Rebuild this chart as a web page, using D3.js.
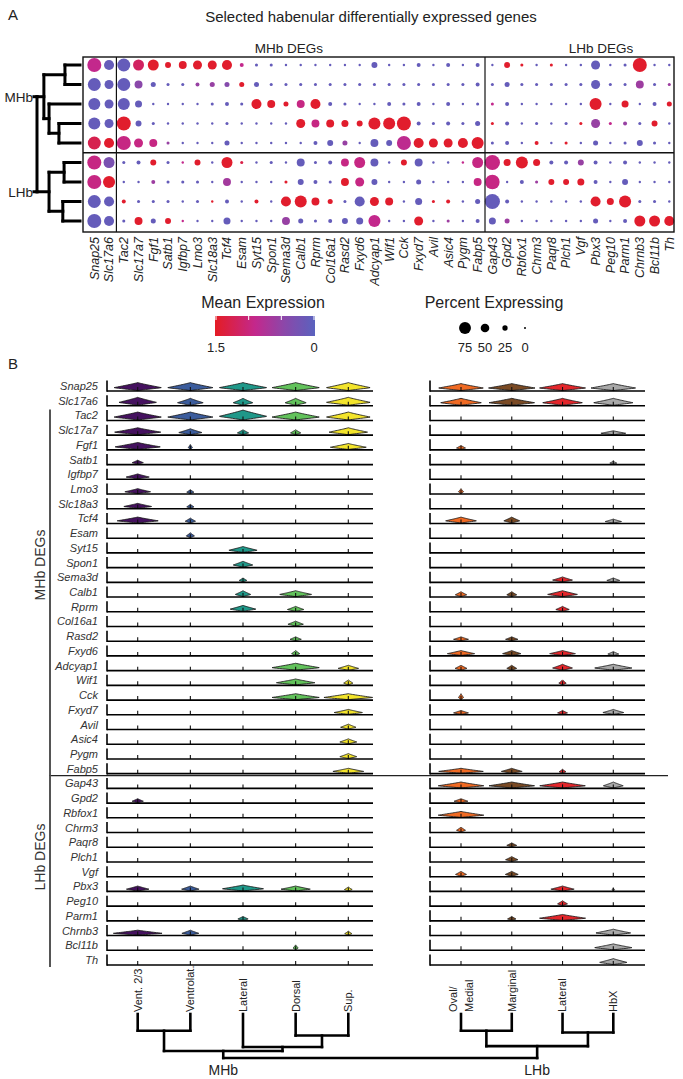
<!DOCTYPE html>
<html><head><meta charset="utf-8">
<script src="https://cdn.jsdelivr.net/npm/d3@7"></script>
<style>body{margin:0;background:#fff}svg{display:block}text{font-family:"Liberation Sans",Arial,sans-serif}</style>
</head><body><svg id="c" width="683" height="1079"></svg>
<script>
// ---------------- DATA ----------------
const dotGenes = ["Snap25","Slc17a6","Tac2","Slc17a7","Fgf1","Satb1","Igfbp7","Lmo3","Slc18a3","Tcf4","Esam","Syt15","Spon1","Sema3d","Calb1","Rprm","Col16a1","Rasd2","Fxyd6","Adcyap1","Wif1","Cck","Fxyd7","Avil","Asic4","Pygm","Fabp5","Gap43","Gpd2","Rbfox1","Chrm3","Paqr8","Plch1","Vgf","Pbx3","Peg10","Parm1","Chrnb3","Bcl11b","Th"];
const dotRows = ["MHb1","MHb2","MHb3","MHb4","MHb5","LHb1","LHb2","LHb3","LHb4"];
const pct = [
[91,61,83,68,68,30,45,53,53,61, 15,8,8,3,3,3,3,3,3,30, 3,3,15,3,15,3,15,3,30,8, 3,8,3,3,53,3,8,91,3,3],
[83,53,83,45,23,8,8,15,23,23, 23,23,8,8,8,8,8,8,8,8, 8,8,8,8,8,8,15,8,23,8, 8,8,8,8,53,8,8,45,8,8],
[76,53,76,38,3,3,3,3,8,15, 8,61,45,23,45,61,15,8,3,3, 15,8,15,3,15,3,8,8,15,3, 3,3,3,3,76,3,38,3,15,23],
[76,53,91,30,8,3,3,3,3,8, 3,3,3,3,53,45,45,38,30,76, 76,91,15,8,15,8,23,8,15,3, 8,3,8,8,53,8,15,8,30,3],
[83,61,91,53,45,8,3,3,3,23, 3,3,3,3,3,15,30,23,3,45, 30,91,61,53,53,61,76,8,15,3, 15,3,8,3,23,3,8,30,8,3],
[91,68,8,15,30,8,3,30,3,68, 8,3,8,3,45,8,15,45,68,45, 3,30,45,3,3,3,68,100,38,76, 38,15,15,30,15,3,15,3,3,3],
[91,76,3,3,15,8,8,8,3,45, 3,3,3,8,30,15,8,45,53,30, 3,3,23,3,3,3,45,95,3,15, 8,30,30,38,15,3,30,3,3,3],
[83,61,15,8,8,8,3,8,3,15, 3,15,3,61,76,45,23,8,61,53, 45,3,38,8,15,3,23,100,15,3, 3,3,3,3,61,38,76,8,8,3],
[91,61,8,45,23,30,3,3,3,38, 3,3,3,45,23,8,15,30,38,76, 3,3,53,3,8,3,15,38,23,3, 3,3,3,3,23,3,15,68,68,61]
];
const expr = [
[0.9,0.1,0.1,1.15,1.45,1.45,1.45,1.45,1.45,1.45, 0.9,0.1,0.1,0.1,0.1,0.1,0.1,0.1,0.1,0.1, 0.1,0.1,0.1,0.1,0.1,0.1,0.1,0.1,1.45,1.45, 0.1,1.45,0.1,0.1,0.1,0.1,0.1,1.45,0.1,0.1],
[0.1,0.1,0.1,0.45,0.1,0.1,0.1,0.55,0.55,0.4, 1.45,0.1,0.1,0.1,0.1,0.1,0.1,0.1,0.1,0.1, 0.1,0.1,0.1,0.1,0.1,0.1,0.1,0.1,0.1,0.1, 0.1,0.1,0.1,0.1,0.1,0.1,0.1,0.6,0.1,0.6],
[0.1,0.1,0.1,0.1,0.1,0.1,0.1,0.1,0.1,0.1, 0.1,1.45,1.45,1.45,0.95,1.45,0.1,0.1,0.1,0.1, 0.1,0.1,0.1,0.1,0.1,0.1,0.1,0.9,0.1,0.1, 0.1,0.1,0.1,0.1,1.45,0.1,1.45,0.1,0.1,1.45],
[0.1,0.1,1.45,0.1,0.1,0.1,0.1,0.1,0.1,0.1, 0.1,0.1,0.1,0.1,1.45,0.95,1.45,1.45,1.45,1.45, 1.45,1.45,0.1,0.1,0.1,0.1,0.1,1.45,0.1,0.1, 0.1,0.1,0.1,1.45,0.55,0.9,0.55,0.1,1.45,0.1],
[1.25,1.45,0.95,0.95,0.95,0.55,0.1,0.1,0.1,0.1, 0.1,0.1,0.1,0.1,0.1,0.1,0.1,0.55,0.1,0.1, 0.1,0.85,1.45,1.45,1.45,1.45,1.45,0.1,0.1,0.1, 1.45,0.1,1.45,0.1,0.1,0.1,0.1,0.1,0.1,0.1],
[0.95,0.3,0.1,0.1,1.45,0.1,0.9,1.45,0.1,1.45, 1.3,0.1,0.1,0.1,0.1,0.1,0.1,0.95,0.95,0.1, 0.1,1.45,0.1,0.1,0.1,0.9,0.95,0.95,1.45,1.45, 1.45,0.1,0.1,0.55,0.1,0.1,0.1,0.1,0.1,0.1],
[0.95,1.45,0.1,0.1,0.6,0.1,0.1,0.1,0.1,0.65, 0.1,0.1,0.1,1.45,0.1,0.1,0.1,1.45,0.95,0.1, 0.1,0.1,0.1,0.1,0.1,0.1,0.95,0.95,0.1,0.1, 0.6,1.45,1.45,1.45,0.1,0.1,0.1,0.1,0.1,0.1],
[0.1,0.1,1.45,0.1,0.1,0.1,0.1,0.1,1.45,0.1, 0.1,1.45,0.1,1.45,1.45,1.45,1.45,0.1,0.1,1.45, 1.45,0.1,0.1,1.45,1.45,0.1,0.1,0.1,0.1,0.1, 0.1,0.1,0.1,0.1,1.45,1.45,1.45,0.1,0.1,0.1],
[0.1,0.1,0.1,1.45,0.1,1.45,0.9,0.1,0.1,0.1, 0.1,0.1,0.1,0.55,0.1,0.1,0.1,0.1,0.1,0.9, 0.1,0.1,1.45,0.1,0.6,0.1,0.1,0.1,0.6,0.1, 0.1,0.1,0.1,0.1,0.1,0.1,0.1,1.45,1.45,1.45]
];
const colorTicks = [1.5, 1.0, 0.5, 0];
const colorLabels = ["1.5", "0"];
const sizeLegend = [75, 50, 25, 0];
const rowTree = {h:1.0, children:[
  {h:0.84, label:"MHb", children:[
    {h:0.35, children:[{leaf:"MHb1"},{leaf:"MHb2"}]},
    {h:0.72, children:[{leaf:"MHb3"},{h:0.49, children:[{leaf:"MHb4"},{leaf:"MHb5"}]}]}]},
  {h:0.72, label:"LHb", children:[
    {h:0.37, children:[{leaf:"LHb1"},{leaf:"LHb2"}]},
    {h:0.40, children:[{leaf:"LHb3"},{leaf:"LHb4"}]}]}]};

const violinGenes = dotGenes.slice();
const leftClusters = ["Vent. 2/3","Ventrolat.","Lateral","Dorsal","Sup."];
const rightClusters = ["Oval/Medial","Marginal","Lateral","HbX"];
const leftColors = ["#45115f","#3b5c9c","#1f9889","#62c25b","#f3e42b"];
const rightColors = ["#f06a23","#7a4a24","#e3262b","#a8a8a8"];
const leftW = [
[0.92,0.88,0.92,0.92,0.85],[0.73,0.5,0.38,0.41,0.85],[0.92,0.88,0.92,0.92,0.85],[0.9,0.45,0.22,0.2,0.75],
[0.88,0.08,0,0,0.7],[0.22,0,0,0,0],[0.45,0,0,0,0],[0.5,0.14,0,0,0],[0.54,0.14,0,0,0],[0.8,0.2,0,0,0],
[0,0.16,0,0,0],[0,0,0.55,0,0],[0,0,0.38,0,0],[0,0,0.15,0,0],[0,0,0.3,0.62,0],[0,0,0.5,0.32,0],
[0,0,0,0.3,0],[0,0,0,0.22,0],[0,0,0,0.16,0],[0,0,0,0.92,0.4],[0,0,0,0.75,0.18],[0,0,0,0.92,0.95],
[0,0,0,0,0.55],[0,0,0,0,0.3],[0,0,0,0,0.33],[0,0,0,0,0.33],[0,0,0,0,0.6],[0,0,0,0,0],
[0.22,0,0,0,0],[0,0,0,0,0],[0,0,0,0,0],[0,0,0,0,0],[0,0,0,0,0],[0,0,0,0,0],
[0.44,0.34,0.8,0.57,0.15],[0,0,0,0,0],[0,0,0.2,0,0],[0.95,0.33,0,0,0.14],[0,0,0,0.1,0],[0,0,0,0,0]];
const leftH = [
[0.8,0.8,0.8,0.8,0.8],[0.8,0.7,0.7,0.7,0.8],[0.8,0.8,1.0,0.8,0.8],[0.7,0.6,0.5,0.5,0.7],
[0.7,0.5,0,0,0.6],[0.4,0,0,0,0],[0.5,0,0,0,0],[0.5,0.4,0,0,0],[0.5,0.4,0,0,0],[0.6,0.5,0,0,0],
[0,0.5,0,0,0],[0,0,0.6,0,0],[0,0,0.6,0,0],[0,0,0.4,0,0],[0,0,0.6,0.6,0],[0,0,0.6,0.5,0],
[0,0,0,0.5,0],[0,0,0,0.4,0],[0,0,0,0.5,0],[0,0,0,0.7,0.5],[0,0,0,0.6,0.5],[0,0,0,0.6,0.6],
[0,0,0,0,0.5],[0,0,0,0,0.5],[0,0,0,0,0.5],[0,0,0,0,0.5],[0,0,0,0,0.5],[0,0,0,0,0],
[0.4,0,0,0,0],[0,0,0,0,0],[0,0,0,0,0],[0,0,0,0,0],[0,0,0,0,0],[0,0,0,0,0],
[0.5,0.5,0.6,0.5,0.4],[0,0,0,0,0],[0,0,0.4,0,0],[0.5,0.5,0,0,0.4],[0,0,0,0.5,0],[0,0,0,0,0]];
const rightW = [
[0.9,0.94,0.93,0.9],[0.82,0.92,0.8,0.79],[0,0,0,0],[0,0,0,0.5],[0.18,0,0,0],[0,0,0,0.14],[0,0,0,0],
[0.1,0,0,0],[0,0,0,0],[0.62,0.32,0,0.33],[0,0,0,0],[0,0,0,0],[0,0,0,0],[0,0,0.4,0.26],
[0.23,0.2,0.6,0],[0,0,0.27,0],[0,0,0,0],[0.3,0.25,0,0],[0.55,0.37,0.52,0.22],[0.24,0.2,0.4,0.75],
[0,0,0.15,0],[0.1,0,0,0],[0.3,0,0.2,0.42],[0,0,0,0],[0,0,0,0],[0,0,0,0],[0.9,0.42,0.14,0],
[0.92,0.92,0.92,0.4],[0.28,0,0,0],[0.92,0,0,0],[0.18,0,0,0],[0,0.2,0,0],[0,0.25,0,0],[0.22,0.26,0,0],
[0,0,0.47,0.05],[0,0,0.2,0],[0,0.17,0.93,0],[0,0,0,0.7],[0,0,0,0.75],[0,0,0,0.55]];
const rightH = [
[0.7,0.7,0.7,0.7],[0.7,0.7,0.7,0.7],[0,0,0,0],[0,0,0,0.4],[0.4,0,0,0],[0,0,0,0.3],[0,0,0,0],
[0.5,0,0,0],[0,0,0,0],[0.6,0.6,0,0.4],[0,0,0,0],[0,0,0,0],[0,0,0,0],[0,0,0.5,0.4],
[0.5,0.5,0.6,0],[0,0,0.5,0],[0,0,0,0],[0.4,0.4,0,0],[0.5,0.5,0.5,0.4],[0.5,0.5,0.6,0.6],
[0,0,0.5,0],[0.6,0,0,0],[0.4,0,0.4,0.5],[0,0,0,0],[0,0,0,0],[0,0,0,0],[0.5,0.5,0.4,0],
[0.6,0.6,0.6,0.6],[0.4,0,0,0],[0.6,0,0,0],[0.5,0,0,0],[0,0.4,0,0],[0,0.5,0,0],[0.5,0.5,0,0],
[0,0,0.5,0.3],[0,0,0.5,0],[0,0.4,0.6,0],[0,0,0,0.6],[0,0,0,0.6],[0,0,0,0.6]];
const colTree = {h:1.0, children:[
  {h:0.84, label:"MHb", children:[
    {h:0.38, children:[{leaf:["L",0]},{leaf:["L",1]}]},
    {h:0.75, children:[{leaf:["L",2]},{h:0.49, children:[{leaf:["L",3]},{leaf:["L",4]}]}]}]},
  {h:0.73, label:"LHb", children:[
    {h:0.38, children:[{leaf:["R",0]},{leaf:["R",1]}]},
    {h:0.42, children:[{leaf:["R",2]},{leaf:["R",3]}]}]}]};

// ---------------- DRAW ----------------
const svg = d3.select("#c");
const txt = (x,y,s,o={}) => svg.append("text").attr("x",x).attr("y",y).text(s)
  .attr("font-size",o.size||13).attr("fill",o.fill||"#222").attr("text-anchor",o.anchor||"start")
  .attr("font-style",o.style||null);

// Panel A
txt(8,20,"A",{size:15});
txt(371,22,"Selected habenular differentially expressed genes",{size:15,anchor:"middle"});

const x = d3.scalePoint().domain(dotGenes).range([94.3,669.3]);
const y = d3.scalePoint().domain(dotRows).range([65,221]);
const r = d3.scaleLinear().domain([0,100]).range([1,7.6]);
const col = d3.scaleLinear().domain([0,0.45,0.9,1.5]).range(["#5a62be","#8a48aa","#c3288c","#e41c24"]);

const box = {x0:83,x1:674,y0:57,y1:232};
const gA = svg.append("g");
dotRows.forEach((row,i)=>{
  gA.selectAll(null).data(dotGenes).join("circle")
    .attr("cx",g=>x(g)).attr("cy",y(row))
    .attr("r",(g,j)=>r(pct[i][j])).attr("fill",(g,j)=>col(expr[i][j]));
});
gA.append("rect").attr("x",box.x0).attr("y",box.y0).attr("width",box.x1-box.x0).attr("height",box.y1-box.y0)
  .attr("fill","none").attr("stroke","#111").attr("stroke-width",1.4);
const sepY = (y("MHb5")+y("LHb1"))/2;
const sepX1 = (x("Slc17a6")+x("Tac2"))/2, sepX2 = (x("Fabp5")+x("Gap43"))/2;
gA.append("line").attr("x1",box.x0).attr("x2",box.x1).attr("y1",sepY).attr("y2",sepY).attr("stroke","#111").attr("stroke-width",1.4);
[sepX1,sepX2].forEach(sx=>gA.append("line").attr("x1",sx).attr("x2",sx).attr("y1",box.y0).attr("y2",box.y1).attr("stroke","#111").attr("stroke-width",1.2));
txt(289,53,"MHb DEGs",{size:13.5,anchor:"middle"});
txt(601,53,"LHb DEGs",{size:13.5,anchor:"middle"});
gA.selectAll(null).data(dotGenes).join("text")
  .attr("transform",g=>`translate(${x(g)},${box.y1+5}) rotate(-90)`)
  .attr("dy","0.35em").attr("text-anchor","end").attr("font-size",12.5).attr("font-style","italic")
  .attr("fill","#222").text(g=>g);

// row dendrogram
function layoutTree(node, leafPos){
  if(node.leaf!==undefined){ node.h=0; node.pos=leafPos(node.leaf); return node.pos; }
  const ps = node.children.map(c=>layoutTree(c,leafPos));
  node.pos = d3.mean(ps); return node.pos;
}
layoutTree(rowTree, l=>y(l));
const hx = d3.scaleLinear().domain([0,1]).range([80,37]);
const dA = svg.append("g").attr("stroke","#000").attr("stroke-width",3).attr("fill","none").attr("stroke-linecap","square");
(function drawRow(n){
  if(!n.children) return;
  const ps = n.children.map(c=>c.pos);
  dA.append("line").attr("x1",hx(n.h)).attr("x2",hx(n.h)).attr("y1",d3.min(ps)).attr("y2",d3.max(ps));
  n.children.forEach(c=>{
    dA.append("line").attr("x1",hx(n.h)).attr("x2",hx(c.h)).attr("y1",c.pos).attr("y2",c.pos);
    drawRow(c);
  });
  if(n.label){ dA.append("line").attr("x1",hx(1)-3).attr("x2",hx(1)).attr("y1",n.pos).attr("y2",n.pos); }
})(rowTree);
rowTree.children.forEach(c=>txt(33,c.pos+5,c.label,{size:13.5,anchor:"end"}));

// Legends
txt(263,308,"Mean Expression",{size:16,anchor:"middle"});
const cbx = d3.scaleLinear().domain([1.5,0]).range([216,314]);
const defs = svg.append("defs");
const grad = defs.append("linearGradient").attr("id","cg").attr("x1","0").attr("x2","1").attr("y1","0").attr("y2","0");
d3.range(0,1.0001,0.05).forEach(t=>grad.append("stop").attr("offset",t).attr("stop-color",col(1.5-1.5*t)));
svg.append("rect").attr("x",cbx(1.5)-1).attr("y",316).attr("width",cbx(0)-cbx(1.5)+2).attr("height",20).attr("fill","url(#cg)");
svg.selectAll(null).data(colorTicks).join("line").attr("x1",d=>cbx(d)).attr("x2",d=>cbx(d)).attr("y1",316).attr("y2",320)
  .attr("stroke","#fff").attr("stroke-width",1);
txt(cbx(1.5),352,colorLabels[0],{size:13,anchor:"middle"});
txt(cbx(0),352,colorLabels[1],{size:13,anchor:"middle"});
txt(494,308,"Percent Expressing",{size:16,anchor:"middle"});
const sx = d3.scalePoint().domain(sizeLegend).range([465,525]);
svg.selectAll(null).data(sizeLegend).join("circle").attr("cx",d=>sx(d)).attr("cy",328).attr("r",d=>r(d)).attr("fill","#000");
svg.selectAll(null).data(sizeLegend).join("text").attr("x",d=>sx(d)).attr("y",352).attr("text-anchor","middle")
  .attr("font-size",13).attr("fill","#222").text(d=>d);

// Panel B
txt(8,369,"B",{size:15});
const vy = d3.scalePoint().domain(violinGenes).range([391,965]);
const xL = d3.scalePoint().domain(leftClusters).range([137.7,348.3]);
const xR = d3.scalePoint().domain(rightClusters).range([461,613.3]);
const wL = d3.scaleLinear().domain([0,1]).range([0,26.3]);
const wR = d3.scaleLinear().domain([0,1]).range([0,25.4]);
const hS = d3.scaleLinear().domain([0,1]).range([0,10]);
const panels = [
  {clusters:leftClusters, xs:xL, ws:wL, W:leftW, H:leftH, colors:leftColors, x0:107, x1:373},
  {clusters:rightClusters, xs:xR, ws:wR, W:rightW, H:rightH, colors:rightColors, x0:430, x1:645}
];
const area = d3.area().y(p=>p.y).x0(p=>p.cx-p.w).x1(p=>p.cx+p.w).curve(d3.curveLinear);
function violin(cx, base, hw, h){
  const tm = 0.36, n = 24;
  const pts = d3.range(n+1).map(i=>{
    const t=i/n; const d = t<tm ? (tm-t)/tm : (t-tm)/(1-tm);
    return {cx, y: base-0.4-t*h, w: hw*Math.pow(1-d,1.1)};
  });
  return area(pts);
}
const gB = svg.append("g");
violinGenes.forEach((g,i)=>{
  const b = vy(g);
  txt(98,b-1,g,{size:11,anchor:"end",style:"italic",fill:"#333"});
  panels.forEach(P=>{
    P.clusters.forEach((c,k)=>{
      const w = P.W[i][k], h = P.H[i][k];
      if(w>0) gB.append("path").attr("d",violin(P.xs(c),b,P.ws(w),hS(h)))
        .attr("fill",P.colors[k]).attr("stroke","#1a1a1a").attr("stroke-width",0.85).attr("stroke-linejoin","round");
      gB.append("line").attr("x1",P.xs(c)).attr("x2",P.xs(c)).attr("y1",b).attr("y2",b-4)
        .attr("stroke","#111").attr("stroke-width",1.1);
    });
    gB.append("line").attr("x1",P.x0).attr("x2",P.x0).attr("y1",b-10.5).attr("y2",b+0.8).attr("stroke","#000").attr("stroke-width",1.6);
    gB.append("line").attr("x1",P.x0).attr("x2",P.x1).attr("y1",b).attr("y2",b).attr("stroke","#000").attr("stroke-width",1.6);
  });
});
const secY = (vy("Fabp5")+vy("Gap43"))/2 - 5.5;
svg.append("line").attr("x1",49).attr("x2",668).attr("y1",secY).attr("y2",secY).attr("stroke","#222").attr("stroke-width",1.2);
svg.append("line").attr("x1",50).attr("x2",50).attr("y1",vy("Tac2")-11).attr("y2",secY).attr("stroke","#555").attr("stroke-width",2);
svg.append("line").attr("x1",50).attr("x2",50).attr("y1",secY).attr("y2",vy("Th")+2).attr("stroke","#555").attr("stroke-width",2);
svg.append("text").attr("transform",`translate(45,565) rotate(-90)`).attr("text-anchor","middle")
  .attr("font-size",14).attr("fill","#333").text("MHb DEGs");
svg.append("text").attr("transform",`translate(45,857) rotate(-90)`).attr("text-anchor","middle")
  .attr("font-size",14).attr("fill","#333").text("LHb DEGs");

// cluster labels
const labY = 1012;
leftClusters.forEach(c=>svg.append("text").attr("transform",`translate(${xL(c)},${labY}) rotate(-90)`)
  .attr("dy","0.35em").attr("font-size",11).attr("fill","#222").text(c));
rightClusters.forEach(c=>{
  const parts = c.split("/");
  if(parts.length>1){
    svg.append("text").attr("transform",`translate(${xR(c)},${labY}) rotate(-90)`).attr("dy",-4).attr("font-size",11).attr("fill","#222").text(parts[0]+"/");
    svg.append("text").attr("transform",`translate(${xR(c)},${labY}) rotate(-90)`).attr("dy",11.5).attr("font-size",11).attr("fill","#222").text(parts[1]);
  } else svg.append("text").attr("transform",`translate(${xR(c)},${labY}) rotate(-90)`)
    .attr("dy","0.35em").attr("font-size",11).attr("fill","#222").text(c);
});

// column dendrogram
layoutTree(colTree, l=> l[0]==="L" ? xL(leftClusters[l[1]]) : xR(rightClusters[l[1]]));
const hy = d3.scaleLinear().domain([0,1]).range([1014,1058]);
const dB = svg.append("g").attr("stroke","#000").attr("stroke-width",2.6).attr("fill","none").attr("stroke-linecap","square");
(function drawCol(n){
  if(!n.children) return;
  const ps = n.children.map(c=>c.pos);
  dB.append("line").attr("y1",hy(n.h)).attr("y2",hy(n.h)).attr("x1",d3.min(ps)).attr("x2",d3.max(ps));
  n.children.forEach(c=>{
    dB.append("line").attr("y1",hy(n.h)).attr("y2",hy(c.h)).attr("x1",c.pos).attr("x2",c.pos);
    drawCol(c);
  });
})(colTree);
colTree.children.forEach(c=>txt(c.pos,1075,c.label,{size:14,anchor:"middle"}));
</script></body></html>
